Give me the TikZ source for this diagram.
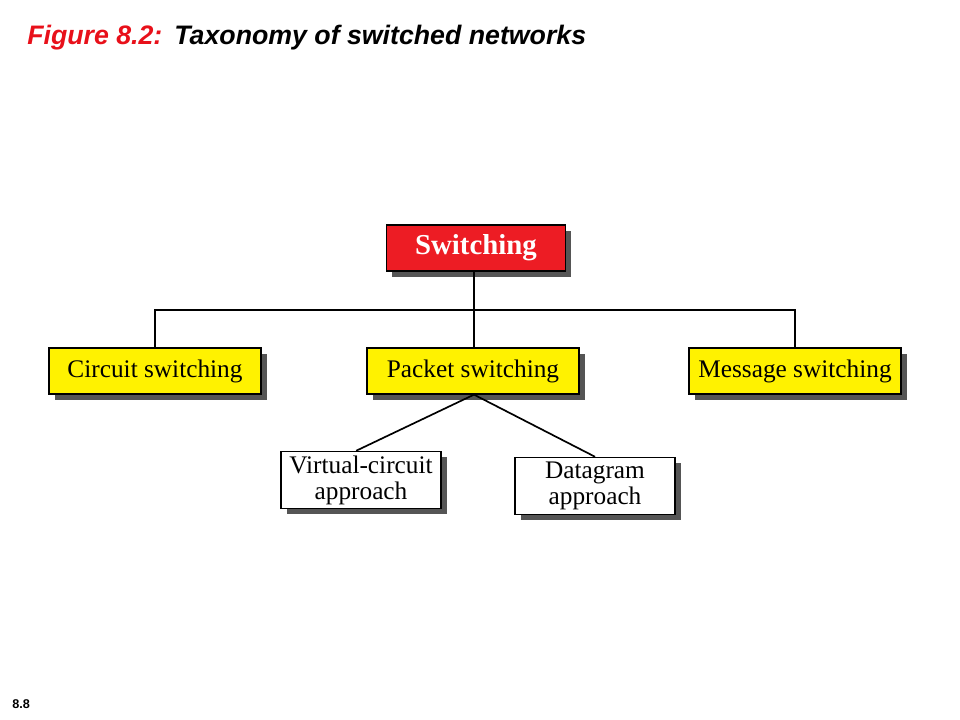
\documentclass[tikz,border=0pt]{standalone}
\usepackage{fontspec}
\setmainfont{Liberation Serif}
\setsansfont{Liberation Sans}
\usetikzlibrary{shadows}
\definecolor{boxred}{HTML}{ED1C24}
\definecolor{boxyellow}{HTML}{FFF200}
\definecolor{titlered}{HTML}{E8101A}
\definecolor{shadowgray}{HTML}{555555}

\begin{document}
\begin{tikzpicture}[
    x=0.025cm, y=-0.025cm,
    kind/.style={rectangle, draw=black, line width=0.9pt, text centered, inner sep=0pt,
        drop shadow={shadow xshift=0.14cm, shadow yshift=-0.14cm, fill=shadowgray, opacity=1}},
    top/.style={kind, fill=boxred, text=white, minimum width=4.475cm, minimum height=1.15cm, font=\fontsize{20.5}{23}\selectfont\bfseries},
    mid/.style={kind, fill=boxyellow, minimum width=5.3cm, minimum height=1.15cm, font=\fontsize{18}{20}\selectfont},
    leaf/.style={kind, fill=white, minimum width=4cm, minimum height=1.43cm, align=center, font=\fontsize{18}{18.5}\selectfont},
    link/.style={line width=1.2pt}
]
\useasboundingbox (0,0) rectangle (960,720);

% TITLE
\node[anchor=base west, inner sep=0pt, font=\sffamily\bfseries\itshape\fontsize{19}{22}\selectfont] (title) at (27,45)
    {\textcolor{titlered}{Figure 8.2:}\hspace{0.45em}Taxonomy of switched networks};

% Root
\node[top] (switch) at (476,248) {Switching};

% Second level
\node[mid] (circuit) at (155,371) {Circuit switching};
\node[mid] (packet) at (473,371) {Packet switching};
\node[mid] (message) at (795,371) {Message switching};

% Third level
\node[leaf] (virtual) at (361,480) {Virtual-circuit\\approach};
\node[leaf] (datagram) at (595,486) {Datagram\\approach};

% Connectors
\coordinate (bus) at (474,310);
\draw[link] (switch.south -| bus) -- (bus);
\draw[link] (circuit.north) |- (bus) -| (message.north);
\draw[link] (bus) -- (bus |- packet.north);
\draw[link] (packet.south -| bus) -- ([xshift=-0.12cm]virtual.north);
\draw[link] (packet.south -| bus) -- (datagram.north);

% Page number
\node[anchor=base west, inner sep=0pt, font=\sffamily\bfseries\fontsize{9}{10}\selectfont] (page) at (12,708) {8.8};

\end{tikzpicture}
\end{document}
